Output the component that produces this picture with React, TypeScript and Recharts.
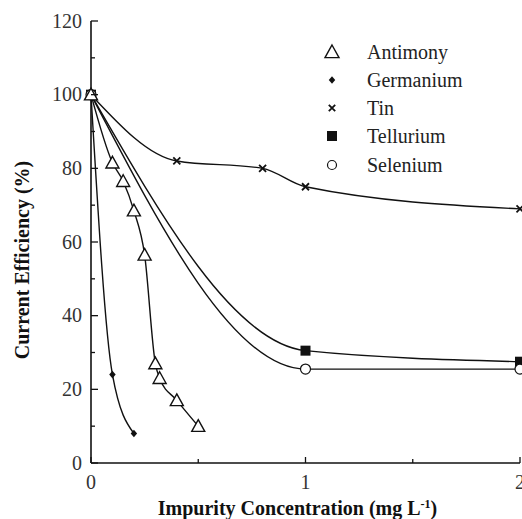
import React from 'react';
import { LineChart, Line, XAxis, YAxis, Legend, Label } from 'recharts';

// concentration (mg/L) and current efficiency (%)
const antimonyX = [0, 0.1, 0.15, 0.2, 0.25, 0.3, 0.32, 0.4, 0.5];
const antimonyY = [100, 81.5, 76.5, 68.5, 56.5, 27, 23, 17, 10];

const germaniumX = [0, 0.1, 0.2];
const germaniumY = [100, 24, 8];

const tinX = [0, 0.4, 0.8, 1, 2];
const tinY = [100, 82, 80, 75, 69];

const telluriumX = [0, 1, 2];
const telluriumY = [100, 30.5, 27.5];

const seleniumX = [0, 1, 2];
const seleniumY = [100, 25.5, 25.5];

const xTicks = [0, 0.5, 1, 1.5, 2];
const xLabelTicks = [0, 1, 2];
const yTicks = [0, 10, 20, 30, 40, 50, 60, 70, 80, 90, 100, 110, 120];
const yLabelTicks = [0, 20, 40, 60, 80, 100, 120];

const legendNames = ['Antimony', 'Germanium', 'Tin', 'Tellurium', 'Selenium'];

const toPoints = (xs: number[], ys: number[]) => xs.map((x, i) => ({ x, y: ys[i] }));

const INK = '#111';
const FONT = 'Liberation Serif, Times New Roman, DejaVu Serif, serif';

const TriangleMark = ({ cx, cy, s = 6.5 }: any) => (
  <path
    d={`M${cx},${cy - s} L${cx + s},${cy + s * 0.8} L${cx - s},${cy + s * 0.8} Z`}
    fill="#fff"
    stroke={INK}
    strokeWidth={1.4}
  />
);
const DiamondMark = ({ cx, cy, s = 3.8 }: any) => (
  <path d={`M${cx},${cy - s} L${cx + s * 0.85},${cy} L${cx},${cy + s} L${cx - s * 0.85},${cy} Z`} fill={INK} />
);
const CrossMark = ({ cx, cy, s = 3.5 }: any) => (
  <path d={`M${cx - s},${cy - s} L${cx + s},${cy + s} M${cx + s},${cy - s} L${cx - s},${cy + s}`} stroke={INK} strokeWidth={1.8} />
);
const SquareMark = ({ cx, cy, s = 5 }: any) => <rect x={cx - s} y={cy - s} width={s * 2} height={s * 2} fill={INK} />;
const CircleMark = ({ cx, cy, r = 5 }: any) => <circle cx={cx} cy={cy} r={r} fill="#fff" stroke={INK} strokeWidth={1.2} />;

const dotOf = (Mark: any) => (props: any) => <Mark key={`d-${props.index}`} cx={props.cx} cy={props.cy} />;

const XTick = ({ x, y, payload }: any) => {
  const major = xLabelTicks.includes(payload.value);
  return (
    <g>
      <line x1={x} x2={x} y1={y} y2={y - (major ? 6 : 4)} stroke={INK} strokeWidth={1.3} />
      {major && (
        <text x={x} y={y + 26} textAnchor="middle" style={{ fontFamily: FONT }} fontSize={20} fill="#333">
          {payload.value}
        </text>
      )}
    </g>
  );
};

const YTick = ({ x, y, payload }: any) => {
  const major = yLabelTicks.includes(payload.value);
  return (
    <g>
      <line x1={x} x2={x + (major ? 7 : 4)} y1={y} y2={y} stroke={INK} strokeWidth={1.3} />
      {major && (
        <text x={x - 9} y={y + 6.5} textAnchor="end" style={{ fontFamily: FONT }} fontSize={20} fill="#333">
          {payload.value}
        </text>
      )}
    </g>
  );
};

const legendMarks = [
  <TriangleMark cx={12} cy={17} s={7} />,
  <DiamondMark cx={12} cy={45} s={3.8} />,
  <CrossMark cx={12} cy={73} s={3.2} />,
  <SquareMark cx={12} cy={101} s={5} />,
  <CircleMark cx={12} cy={130} r={4.5} />,
];

const renderLegend = () => (
  <svg width={200} height={150}>
    {legendNames.map((name, i) => (
      <g key={name}>
        {legendMarks[i]}
        <text x={47} y={17 + i * 28.3 + 6.5} style={{ fontFamily: FONT }} fontSize={20} fill="#222">
          {name}
        </text>
      </g>
    ))}
  </svg>
);

export default function App() {
  return (
    <div style={{ position: 'absolute', left: 0, top: 0, background: '#fff', fontFamily: FONT }}>
      <LineChart width={522} height={519} margin={{ top: 21, right: 2, bottom: 0, left: 0 }}>
        <XAxis
          dataKey="x"
          type="number"
          domain={[0, 2]}
          ticks={xTicks}
          interval={0}
          height={56}
          tickSize={0}
          tickMargin={0}
          tickLine={false}
          axisLine={{ stroke: INK, strokeWidth: 1.6 }}
          tick={<XTick />}
          allowDuplicatedCategory={false}
        >
          <Label
            content={({ viewBox }: any) => (
              <text
                x={viewBox.x + viewBox.width / 2 - 8}
                y={viewBox.y + 52}
                textAnchor="middle"
                style={{ fontFamily: FONT }}
                fontSize={20}
                fontWeight="bold"
                fill="#111"
              >
                Impurity Concentration (mg L
                <tspan dy={-7} fontSize={12}>-1</tspan>
                <tspan dy={7}>)</tspan>
              </text>
            )}
          />
        </XAxis>
        <XAxis xAxisId="top" orientation="top" type="number" domain={[0, 2]} height={0} tick={false} tickLine={false} axisLine={{ stroke: INK, strokeWidth: 1.6 }} />
        <YAxis
          type="number"
          domain={[0, 120]}
          ticks={yTicks}
          interval={0}
          width={91}
          tickSize={0}
          tickMargin={0}
          tickLine={false}
          axisLine={{ stroke: INK, strokeWidth: 1.6 }}
          tick={<YTick />}
        >
          <Label
            content={({ viewBox }: any) => (
              <text
                x={22}
                y={viewBox.y + viewBox.height / 2 + 18}
                transform={`rotate(-90 22 ${viewBox.y + viewBox.height / 2 + 18})`}
                textAnchor="middle"
                dominantBaseline="central"
                style={{ fontFamily: FONT }}
                fontSize={20}
                fontWeight="bold"
                fill="#111"
              >
                Current Efficiency (%)
              </text>
            )}
          />
        </YAxis>
        <YAxis yAxisId="right" orientation="right" type="number" domain={[0, 120]} width={0} tick={false} tickLine={false} axisLine={{ stroke: INK, strokeWidth: 1.6 }} />

        <Legend
          layout="vertical"
          align="center"
          verticalAlign="middle"
          content={renderLegend}
          wrapperStyle={{ left: 320, top: 35, width: 200, height: 150 }}
        />

        <Line data={toPoints(tinX, tinY)} dataKey="y" type="monotone" stroke={INK} strokeWidth={1.4} dot={dotOf(CrossMark)} activeDot={false} isAnimationActive={false} />
        <Line data={toPoints(telluriumX, telluriumY)} dataKey="y" type="monotone" stroke={INK} strokeWidth={1.4} dot={dotOf(SquareMark)} activeDot={false} isAnimationActive={false} />
        <Line data={toPoints(seleniumX, seleniumY)} dataKey="y" type="monotone" stroke={INK} strokeWidth={1.4} dot={dotOf(CircleMark)} activeDot={false} isAnimationActive={false} />
        <Line data={toPoints(germaniumX, germaniumY)} dataKey="y" type="monotone" stroke={INK} strokeWidth={1.4} dot={dotOf(DiamondMark)} activeDot={false} isAnimationActive={false} />
        <Line data={toPoints(antimonyX, antimonyY)} dataKey="y" type="monotone" stroke={INK} strokeWidth={1.4} dot={dotOf(TriangleMark)} activeDot={false} isAnimationActive={false} />
      </LineChart>
    </div>
  );
}
